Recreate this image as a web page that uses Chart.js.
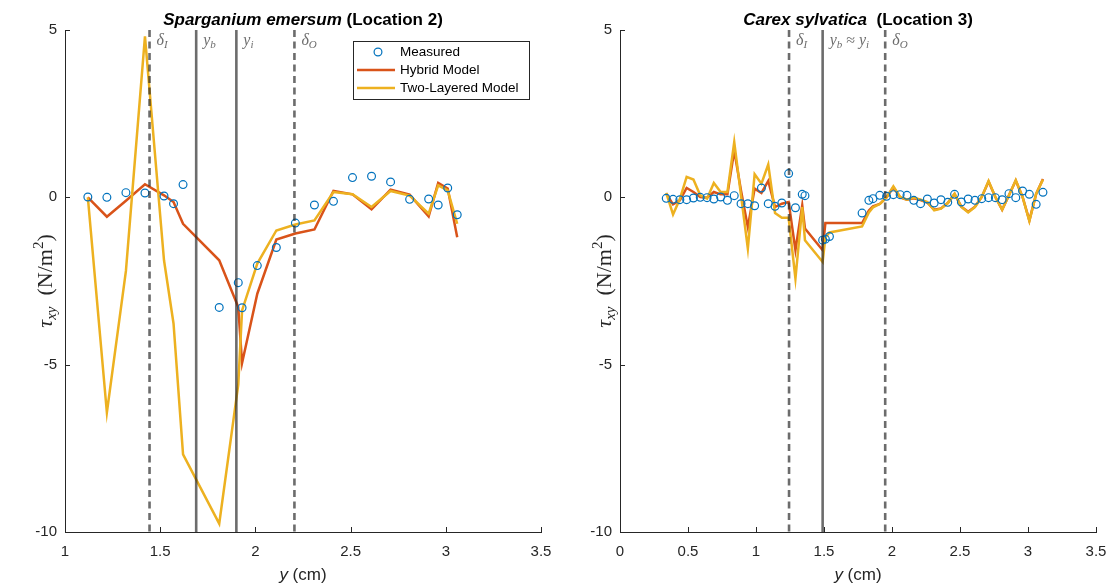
<!DOCTYPE html>
<html><head><meta charset="utf-8">
<script src="https://cdn.jsdelivr.net/npm/chart.js@4.4.0/dist/chart.umd.min.js"></script>
<style>
html,body{margin:0;padding:0;background:#fff;}
#wrap{position:relative;width:1108px;height:585px;background:#fff;}
#c1{position:absolute;left:0;top:0;}
#c2{position:absolute;left:560px;top:0;}
</style></head><body>
<div id="wrap">
<canvas id="c1" width="560" height="585"></canvas>
<canvas id="c2" width="548" height="585"></canvas>
</div>
<script>
// ---------- data: left panel (Sparganium emersum, Location 2) ----------
const leftX      = [1.12,1.22,1.32,1.42,1.52,1.57,1.62,1.81,1.91,1.93,2.01,2.11,2.21,2.31,2.41,2.51,2.61,2.71,2.81,2.91,2.96,3.01,3.06];
const leftMeas   = [0.01,0.00,0.14,0.13,0.04,-0.19,0.38,-3.29,-2.55,-3.30,-2.04,-1.50,-0.77,-0.23,-0.12,0.59,0.63,0.46,-0.06,-0.05,-0.23,0.28,-0.52];
const leftHybrid = [0.00,-0.58,-0.10,0.39,0.06,-0.14,-0.79,-1.88,-3.28,-4.95,-2.88,-1.26,-1.08,-0.96,0.19,0.09,-0.36,0.23,0.08,-0.57,0.43,0.26,-1.19];
const leftTwo    = [0.00,-6.43,-2.20,4.81,-1.88,-3.77,-7.68,-9.75,-5.60,-3.38,-1.98,-0.99,-0.81,-0.69,0.16,0.09,-0.29,0.19,0.05,-0.49,0.36,0.21,-0.79];
const leftRefX     = [1.444, 1.689, 1.90, 2.205];
const leftRefDash  = [true, false, false, true];
const leftRefLabel = ['dI','yb','yi','dO'];
const leftXTicks = [1,1.5,2,2.5,3,3.5];

// ---------- data: right panel (Carex sylvatica, Location 3) ----------
const rightX      = [0.34,0.39,0.44,0.49,0.54,0.59,0.64,0.69,0.74,0.79,0.84,0.89,0.94,0.99,1.04,1.09,1.14,1.19,1.24,1.29,1.34,1.36,1.49,1.51,1.54,1.78,1.83,1.86,1.91,1.96,2.01,2.06,2.11,2.16,2.21,2.26,2.31,2.36,2.41,2.46,2.51,2.56,2.61,2.66,2.71,2.76,2.81,2.86,2.91,2.96,3.01,3.06,3.11];
const rightMeas   = [-0.03,-0.06,-0.07,-0.07,-0.02,0.00,-0.01,-0.05,0.01,-0.09,0.05,-0.19,-0.19,-0.25,0.28,-0.19,-0.27,-0.17,0.71,-0.31,0.09,0.05,-1.28,-1.25,-1.17,-0.47,-0.09,-0.04,0.06,0.03,0.08,0.08,0.06,-0.09,-0.19,-0.05,-0.17,-0.07,-0.15,0.09,-0.14,-0.05,-0.09,-0.04,-0.01,-0.01,-0.07,0.11,-0.01,0.19,0.09,-0.21,0.15];
const rightHybrid = [0.11,-0.21,-0.09,0.28,0.16,0.01,-0.01,0.16,0.09,0.09,1.40,0.20,-0.89,0.26,0.13,0.49,-0.29,-0.19,-0.14,-1.58,-0.24,-0.93,-1.58,-0.77,-0.77,-0.77,-0.39,-0.27,-0.20,0.00,0.30,0.00,-0.07,-0.03,-0.08,-0.16,-0.37,-0.33,-0.17,0.10,-0.28,-0.43,-0.28,0.01,0.47,0.01,-0.37,0.06,0.50,0.01,-0.69,0.10,0.55];
const rightTwo    = [0.13,-0.51,-0.05,0.61,0.53,0.06,-0.04,0.43,0.16,0.16,1.65,0.05,-1.53,0.69,0.41,0.98,-0.47,-0.61,-0.61,-2.43,-0.29,-1.28,-1.93,-1.20,-1.05,-0.87,-0.45,-0.30,-0.20,0.00,0.33,0.01,-0.07,-0.01,-0.07,-0.14,-0.39,-0.34,-0.17,0.11,-0.29,-0.45,-0.29,0.01,0.49,0.01,-0.37,0.06,0.51,0.01,-0.71,0.11,0.53];
const rightRefX     = [1.243, 1.49, 1.95];
const rightRefDash  = [true, false, true];
const rightRefLabel = ['dI','ybyi','dO'];
const rightXTicks = [0,0.5,1,1.5,2,2.5,3,3.5];

const yTicks = [-10,-5,0,5];

// ---------- styling ----------
const SANS = '"Liberation Sans", Arial, Helvetica, sans-serif';
const SERIF = '"Liberation Serif", "Times New Roman", serif';
const AX = '#262626';
const REF = 'rgba(38,38,38,0.68)';
const C_MEAS = '#0072BD', C_HYB = '#D95319', C_TWO = '#EDB120';

function pts(xs, ys){ return xs.map((x,i)=>({x:x, y:ys[i]})); }

function richWidth(ctx, parts){ let w=0; for(const p of parts){ctx.font=p.f; w+=ctx.measureText(p.t).width;} return w; }
function drawRich(ctx, parts, x, y, align){
  const w = richWidth(ctx, parts);
  let cx = align==='center' ? x - w/2 : x;
  for(const p of parts){ ctx.font=p.f; ctx.fillText(p.t, cx, y + (p.dy||0)); cx += ctx.measureText(p.t).width; }
}
function refParts(code){
  const big = 'italic 16px '+SERIF, sub = 'italic 11px '+SERIF, up = '16px '+SERIF;
  if(code==='dI') return [{t:'δ',f:big},{t:'I',f:sub,dy:3}];
  if(code==='dO') return [{t:'δ',f:big},{t:'O',f:sub,dy:3}];
  if(code==='yb') return [{t:'y',f:big},{t:'b',f:sub,dy:3}];
  if(code==='yi') return [{t:'y',f:big},{t:'i',f:sub,dy:3}];
  if(code==='ybyi') return [{t:'y',f:big},{t:'b',f:sub,dy:3},{t:' ≈ ',f:up},{t:'y',f:big},{t:'i',f:sub,dy:3}];
  return [{t:code,f:big}];
}

function overlay(cfg){
  return {
    id:'overlay',
    afterDraw(chart){
      const ctx = chart.ctx, a = chart.chartArea, xs = chart.scales.x, ys = chart.scales.y;
      ctx.save();
      // inward tick marks
      ctx.strokeStyle = AX; ctx.lineWidth = 1;
      ctx.beginPath();
      xs.ticks.forEach(t=>{ const p=Math.round(xs.getPixelForValue(t.value))+0.5; ctx.moveTo(p,a.bottom); ctx.lineTo(p,a.bottom-5); });
      ys.ticks.forEach(t=>{ const p=Math.round(ys.getPixelForValue(t.value))+0.5; ctx.moveTo(a.left,p); ctx.lineTo(a.left+5,p); });
      ctx.stroke();
      // reference line labels
      ctx.fillStyle = REF; ctx.textBaseline = 'alphabetic';
      cfg.refX.forEach((v,i)=>{ drawRich(ctx, refParts(cfg.refLabel[i]), xs.getPixelForValue(v)+7, a.top+15, 'left'); });
      // title
      ctx.fillStyle = '#000'; ctx.textBaseline = 'alphabetic';
      const cx = (a.left+a.right)/2;
      drawRich(ctx, [{t:cfg.titleItalic, f:'italic bold 17px '+SANS},{t:cfg.titleRest, f:'bold 17px '+SANS}], cx, 25, 'center');
      // x label
      ctx.fillStyle = AX;
      drawRich(ctx, [{t:'y', f:'italic 17px '+SANS},{t:' (cm)', f:'17px '+SANS}], cx, 580, 'center');
      // y label (rotated)
      ctx.save();
      ctx.translate(cfg.yLabelX, (a.top+a.bottom)/2);
      ctx.rotate(-Math.PI/2);
      const F = 'italic 22px '+SERIF, Fs = 'italic 15px '+SERIF, R = '22px '+SERIF, Rs = '15px '+SERIF;
      drawRich(ctx, [{t:'τ',f:F},{t:'xy',f:Fs,dy:4},{t:'  (N/m',f:R},{t:'2',f:Rs,dy:-9},{t:')',f:R}], 0, 7, 'center');
      ctx.restore();
      // legend
      if(cfg.legend){
        const L = cfg.legend;
        ctx.fillStyle = '#fff'; ctx.fillRect(L.x, L.y, L.w, L.h);
        ctx.strokeStyle = AX; ctx.lineWidth = 1;
        ctx.strokeRect(L.x+0.5, L.y+0.5, L.w, L.h);
        ctx.font = '13.5px '+SANS; ctx.fillStyle = '#000'; ctx.textBaseline = 'middle';
        const rows = [L.y+11, L.y+29, L.y+47];
        ctx.strokeStyle = C_MEAS; ctx.lineWidth = 1.2;
        ctx.beginPath(); ctx.arc(L.x+25, rows[0], 3.9, 0, Math.PI*2); ctx.stroke();
        ctx.lineWidth = 2.5;
        ctx.strokeStyle = C_HYB; ctx.beginPath(); ctx.moveTo(L.x+4, rows[1]); ctx.lineTo(L.x+42, rows[1]); ctx.stroke();
        ctx.strokeStyle = C_TWO; ctx.beginPath(); ctx.moveTo(L.x+4, rows[2]); ctx.lineTo(L.x+42, rows[2]); ctx.stroke();
        ctx.fillText('Measured', L.x+47, rows[0]);
        ctx.fillText('Hybrid Model', L.x+47, rows[1]);
        ctx.fillText('Two-Layered Model', L.x+47, rows[2]);
      }
      ctx.restore();
    }
  };
}

function buildChart(canvas, cfg){
  const datasets = [];
  cfg.refX.forEach((v,i)=>{
    datasets.push({ data:[{x:v,y:yTicks[yTicks.length-1]},{x:v,y:yTicks[0]}], showLine:true, borderColor:REF,
      borderWidth:2.6, borderDash: cfg.refDash[i] ? [7,4.5] : [], pointRadius:0, order:0 });
  });
  datasets.push({ data:pts(cfg.x, cfg.meas), showLine:false, pointStyle:'circle', pointRadius:3.9, pointBorderWidth:1.2,
    borderColor:C_MEAS, pointBorderColor:C_MEAS, backgroundColor:'rgba(0,0,0,0)', pointBackgroundColor:'rgba(0,0,0,0)', order:1 });
  datasets.push({ data:pts(cfg.x, cfg.two), showLine:true, borderColor:C_TWO, borderWidth:2.5, pointRadius:0, tension:0, order:2 });
  datasets.push({ data:pts(cfg.x, cfg.hybrid), showLine:true, borderColor:C_HYB, borderWidth:2.5, pointRadius:0, tension:0, order:3 });

  const tickFont = {family:SANS, size:15};
  const fmt = v => String(Math.round(v*100)/100);
  return new Chart(canvas, {
    type:'scatter',
    data:{datasets},
    options:{
      responsive:false, animation:false, devicePixelRatio:1,
      layout:{padding:{left:0, right:cfg.padRight, top:30, bottom:0}},
      plugins:{legend:{display:false}, title:{display:false}, tooltip:{enabled:false}},
      scales:{
        x:{type:'linear', min:cfg.xTicks[0], max:cfg.xTicks[cfg.xTicks.length-1],
           afterBuildTicks:s=>{ s.ticks = cfg.xTicks.map(v=>({value:v})); },
           ticks:{color:AX, font:tickFont, padding:11, maxRotation:0, autoSkip:false, callback:fmt},
           grid:{display:false, drawTicks:false}, border:{display:true, color:AX, width:1},
           afterFit:s=>{ s.height = 53; s.paddingLeft = 0; s.paddingRight = 0; }},
        y:{type:'linear', min:yTicks[0], max:yTicks[yTicks.length-1],
           afterBuildTicks:s=>{ s.ticks = yTicks.map(v=>({value:v})); },
           ticks:{color:AX, font:tickFont, padding:8, callback:fmt},
           grid:{display:false, drawTicks:false}, border:{display:true, color:AX, width:1},
           afterFit:s=>{ s.width = cfg.yWidth; s.paddingTop = 0; s.paddingBottom = 0; }}
      }
    },
    plugins:[overlay(cfg)]
  });
}

buildChart(document.getElementById('c1'), {
  x:leftX, meas:leftMeas, hybrid:leftHybrid, two:leftTwo,
  refX:leftRefX, refDash:leftRefDash, refLabel:leftRefLabel, xTicks:leftXTicks,
  padRight:19, yWidth:65, yLabelX:45,
  titleItalic:'Sparganium emersum', titleRest:' (Location 2)',
  legend:{x:353, y:41, w:176, h:58}
});
buildChart(document.getElementById('c2'), {
  x:rightX, meas:rightMeas, hybrid:rightHybrid, two:rightTwo,
  refX:rightRefX, refDash:rightRefDash, refLabel:rightRefLabel, xTicks:rightXTicks,
  padRight:12, yWidth:60, yLabelX:44,
  titleItalic:'Carex sylvatica', titleRest:'  (Location 3)'
});
</script>
</body></html>
